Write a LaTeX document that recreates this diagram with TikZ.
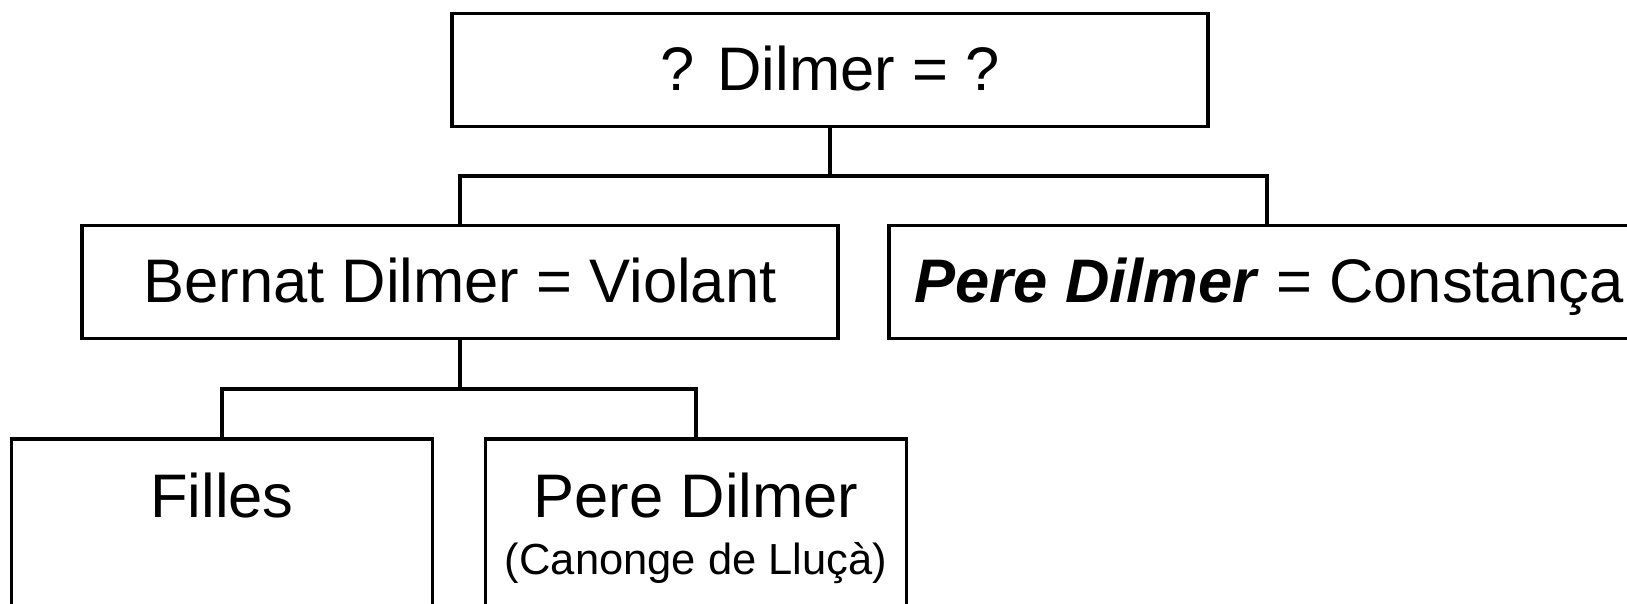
\documentclass[tikz,border=0pt]{standalone}
\usepackage{fontspec}
\setmainfont{Liberation Sans}
\begin{document}
\begin{tikzpicture}[x=1pt,y=-1pt,
  box/.style={draw, line width=3.6pt, rectangle, inner sep=0pt, minimum height=113pt},
  wide/.style={minimum width=756pt},
  narrow/.style={minimum width=421pt, minimum height=261pt},
  conn/.style={line width=3.6pt},
  txt/.style={anchor=base, inner sep=0pt, font=\fontsize{61.5}{70}\selectfont},
  small/.style={anchor=base, inner sep=0pt, font=\fontsize{43.5}{50}\selectfont}]
\useasboundingbox (0,0) rectangle (1627,604);
\clip (0,0) rectangle (1627,604);
\fill[white] (0,0) rectangle (1627,604);
% boxes
\node[box, wide] (top) at (830,70) {};
\node[box, wide] (bernat) at (460,282) {};
\node[box, wide] (pere) at (1267,282) {};
\node[box, narrow] (filles) at (222,569.5) {};
\node[box, narrow] (canonge) at (696,569.5) {};
% texts
\node[txt] (ttop) at (830,91) {? Dilmer = ?};
\node[txt] (tbernat) at (460,302) {Bernat Dilmer = Violant};
\node[txt] (tpere) at (1269,302) {\textbf{\textit{Pere Dilmer}} = Constança};
\node[txt] (tfilles) at (222,517) {Filles};
\node[txt] (tcan) at (696,517) {Pere Dilmer};
\node[small] (tcan2) at (696,574) {(Canonge de Lluçà)};
% connectors
\coordinate (bar1) at (830,176);
\coordinate (bar2) at (460,389);
\draw[conn] (top.south) -- (bar1);
\draw[conn] (bernat.north) |- (bar1) -| (pere.north);
\draw[conn] (bernat.south) -- (bar2);
\draw[conn] (filles.north) |- (bar2) -| (canonge.north);
\end{tikzpicture}
\end{document}
